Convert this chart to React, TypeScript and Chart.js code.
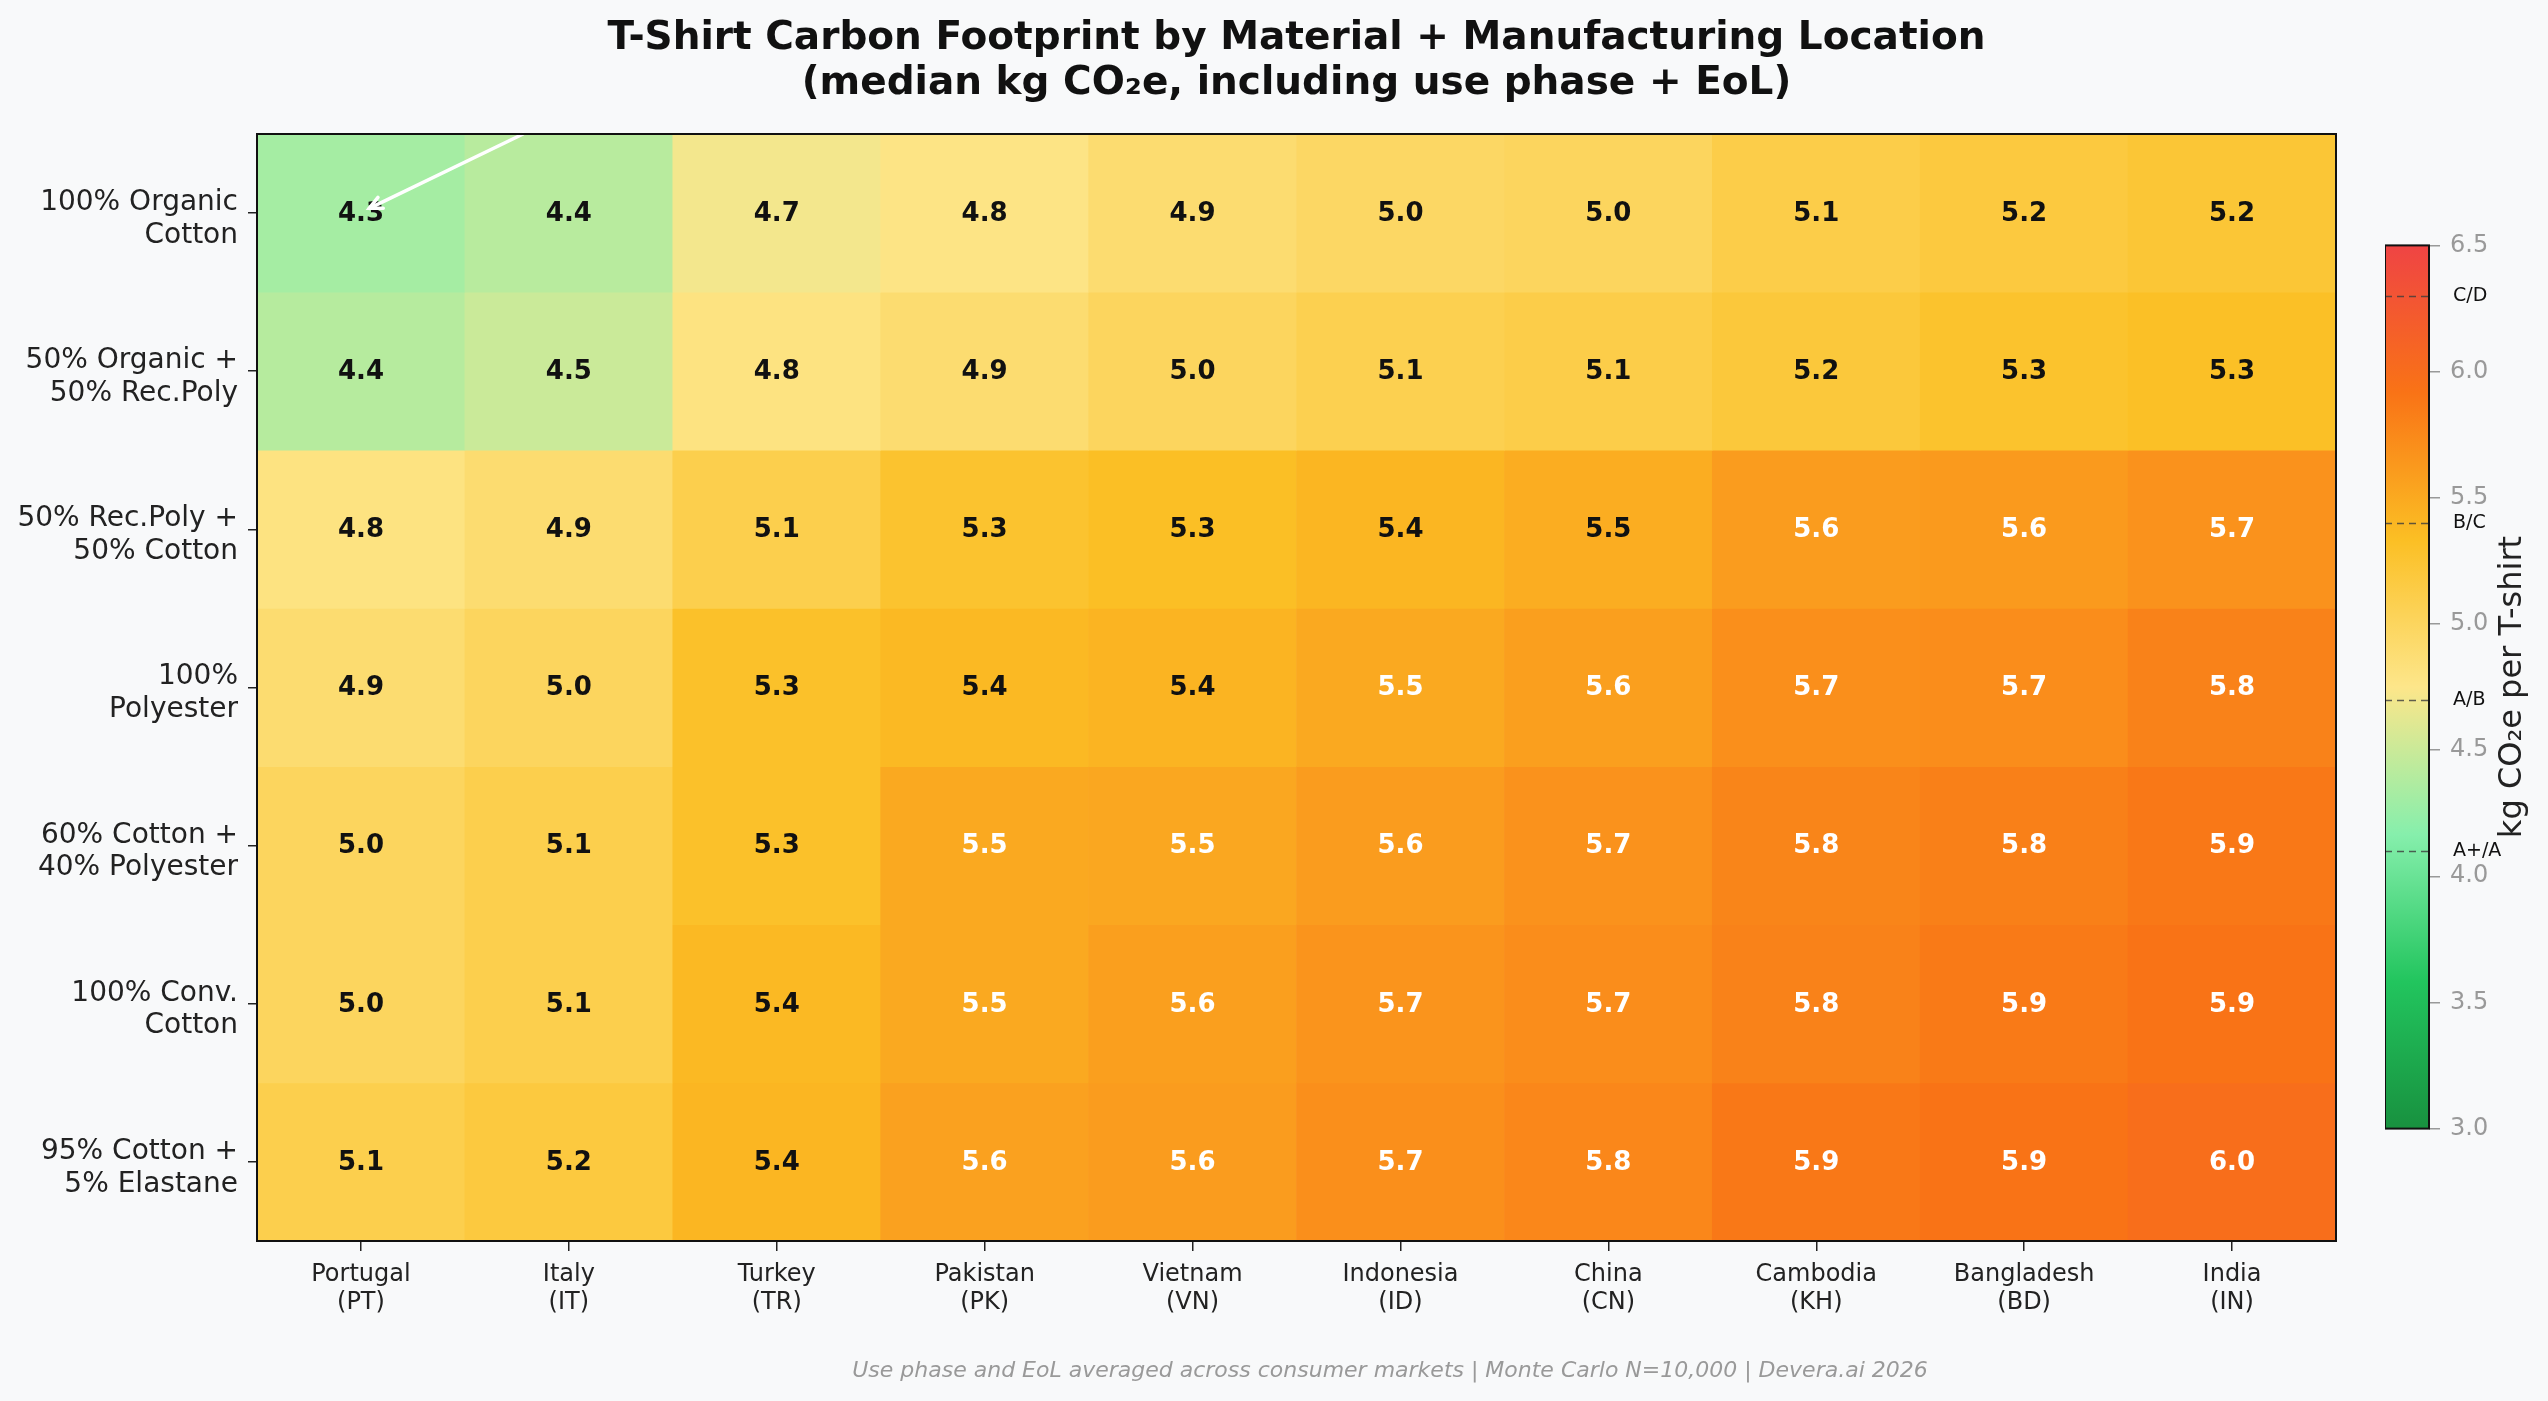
import React, { useEffect, useRef } from 'react';
import { Chart, registerables } from 'chart.js';

Chart.register(...registerables);

// ---------------- DATA ----------------
const MATERIALS: string[][] = [
  ['100% Organic', 'Cotton'],
  ['50% Organic +', '50% Rec.Poly'],
  ['50% Rec.Poly +', '50% Cotton'],
  ['100%', 'Polyester'],
  ['60% Cotton +', '40% Polyester'],
  ['100% Conv.', 'Cotton'],
  ['95% Cotton +', '5% Elastane'],
];

const COUNTRIES: string[][] = [
  ['Portugal', '(PT)'],
  ['Italy', '(IT)'],
  ['Turkey', '(TR)'],
  ['Pakistan', '(PK)'],
  ['Vietnam', '(VN)'],
  ['Indonesia', '(ID)'],
  ['China', '(CN)'],
  ['Cambodia', '(KH)'],
  ['Bangladesh', '(BD)'],
  ['India', '(IN)'],
];

// median kg CO2e per material (rows) x country (columns)
const ORGANIC_COTTON = [4.32, 4.41, 4.70, 4.78, 4.90, 4.97, 5.00, 5.12, 5.18, 5.23];
const ORGANIC_RECPOLY = [4.40, 4.50, 4.80, 4.90, 5.00, 5.08, 5.12, 5.20, 5.28, 5.32];
const RECPOLY_COTTON = [4.80, 4.90, 5.10, 5.27, 5.33, 5.40, 5.47, 5.60, 5.62, 5.68];
const POLYESTER = [4.90, 5.00, 5.30, 5.38, 5.42, 5.50, 5.58, 5.70, 5.72, 5.80];
const COTTON_POLY = [5.00, 5.10, 5.30, 5.50, 5.52, 5.60, 5.68, 5.78, 5.82, 5.88];
const CONV_COTTON = [5.00, 5.10, 5.38, 5.50, 5.58, 5.66, 5.72, 5.80, 5.86, 5.92];
const COTTON_ELASTANE = [5.10, 5.18, 5.40, 5.56, 5.60, 5.70, 5.76, 5.88, 5.92, 5.98];

const VALUES = [ORGANIC_COTTON, ORGANIC_RECPOLY, RECPOLY_COTTON, POLYESTER, COTTON_POLY, CONV_COTTON, COTTON_ELASTANE];

const CBAR_MIN = 3.0;
const CBAR_MAX = 6.5;
const GRADE_THRESHOLDS = [4.1, 4.7, 5.4, 6.3];
const GRADE_LABELS = ['A+/A', 'A/B', 'B/C', 'C/D'];

const TITLE_LINES = [
  'T-Shirt Carbon Footprint by Material + Manufacturing Location',
  '(median kg CO\u2082e, including use phase + EoL)',
];
const FOOTER = 'Use phase and EoL averaged across consumer markets | Monte Carlo N=10,000 | Devera.ai 2026';
const CBAR_TITLE = 'kg CO\u2082e per T-shirt';

// arrow annotation (data units: column index, row position)
const ARROW_FROM = [0.78, 0.0];
const ARROW_TO = [0.04, 0.47];

// ---------------- COLORMAP ----------------
const CMAP_STOPS: [number, string][] = [
  [3.0, '#18913f'],
  [3.5833, '#22c55e'],
  [4.1667, '#86efac'],
  [4.75, '#fde68a'],
  [5.3333, '#fbbf24'],
  [5.9167, '#f97316'],
  [6.5, '#ef4444'],
];

function hexToRgb(h: string) {
  const n = parseInt(h.slice(1), 16);
  return [(n >> 16) & 255, (n >> 8) & 255, n & 255];
}

function cmap(v: number): string {
  const s = CMAP_STOPS;
  if (v <= s[0][0]) return s[0][1];
  if (v >= s[s.length - 1][0]) return s[s.length - 1][1];
  for (let i = 0; i < s.length - 1; i++) {
    const [a, ca] = s[i];
    const [b, cb] = s[i + 1];
    if (v >= a && v <= b) {
      const t = (v - a) / (b - a);
      const A = hexToRgb(ca);
      const B = hexToRgb(cb);
      const c = A.map((x, k) => Math.round(x + (B[k] - x) * t));
      return `rgb(${c[0]},${c[1]},${c[2]})`;
    }
  }
  return s[0][1];
}

const BG = '#f8f9fa';
const FONT = '"DejaVu Sans", "Liberation Sans", sans-serif';

const W = 2548;
const H = 1401;

// ---------------- COMPONENT ----------------
export default function App() {
  const mainRef = useRef<HTMLCanvasElement | null>(null);
  const cbarRef = useRef<HTMLCanvasElement | null>(null);

  useEffect(() => {
    const mainCanvas = mainRef.current!;
    const cbarCanvas = cbarRef.current!;

    const decor = {
      id: 'heatDecor',
      beforeDraw(chart: any) {
        const ctx = chart.ctx;
        ctx.save();
        ctx.fillStyle = BG;
        ctx.fillRect(0, 0, chart.width, chart.height);
        ctx.restore();
      },
      afterDatasetsDraw(chart: any) {
        const ctx = chart.ctx;
        const area = chart.chartArea;
        const xs = chart.scales.x;
        const ys = chart.scales.y;
        ctx.save();
        // values
        ctx.font = `bold 26px ${FONT}`;
        ctx.textAlign = 'center';
        ctx.textBaseline = 'middle';
        VALUES.forEach((row, r) => {
          const meta = chart.getDatasetMeta(r);
          meta.data.forEach((el: any, c: number) => {
            const p = el.getProps(['x', 'y', 'base'], true);
            const v = row[c];
            ctx.fillStyle = v >= 5.48 ? '#ffffff' : '#111111';
            ctx.fillText(v.toFixed(1), p.x, (p.y + p.base) / 2 + 1);
          });
        });
        // arrow annotation
        const x1 = xs.getPixelForValue(ARROW_FROM[0]);
        const y1 = ys.getPixelForValue(ARROW_FROM[1]);
        const x2 = xs.getPixelForValue(ARROW_TO[0]);
        const y2 = ys.getPixelForValue(ARROW_TO[1]);
        ctx.strokeStyle = '#ffffff';
        ctx.lineWidth = 3.5;
        ctx.lineCap = 'round';
        ctx.beginPath();
        ctx.moveTo(x1, y1);
        ctx.lineTo(x2, y2);
        ctx.stroke();
        const ang = Math.atan2(y2 - y1, x2 - x1);
        const hl = 14;
        ctx.beginPath();
        ctx.moveTo(x2 - hl * Math.cos(ang - 0.45), y2 - hl * Math.sin(ang - 0.45));
        ctx.lineTo(x2, y2);
        ctx.lineTo(x2 - hl * Math.cos(ang + 0.45), y2 - hl * Math.sin(ang + 0.45));
        ctx.stroke();
        // border
        ctx.strokeStyle = '#111111';
        ctx.lineWidth = 2;
        ctx.strokeRect(area.left, area.top, area.right - area.left, area.bottom - area.top);
        ctx.restore();
      },
      afterDraw(chart: any) {
        const ctx = chart.ctx;
        const area = chart.chartArea;
        const cx = (area.left + area.right) / 2;
        ctx.save();
        ctx.fillStyle = '#111111';
        ctx.textAlign = 'center';
        ctx.textBaseline = 'alphabetic';
        ctx.font = `bold 39px ${FONT}`;
        ctx.fillText(TITLE_LINES[0], cx, 49);
        ctx.fillText(TITLE_LINES[1], cx, 94);
        ctx.font = `italic 22px ${FONT}`;
        ctx.fillStyle = '#999999';
        ctx.fillText(FOOTER, 1390, 1377);
        ctx.restore();
      },
    };

    const mainChart = new Chart(mainCanvas, {
      type: 'bar',
      data: {
        labels: COUNTRIES as any,
        datasets: MATERIALS.map((m, r) => ({
          label: m.join(' '),
          data: VALUES[r].map(() => [r, r + 1]) as any,
          backgroundColor: VALUES[r].map((v) => cmap(v)),
          borderWidth: 0,
          barPercentage: 1,
          categoryPercentage: 1,
          grouped: false,
        })) as any,
      },
      options: {
        animation: false,
        responsive: false,
        devicePixelRatio: 1,
        layout: { padding: { top: 134, right: 212, left: 0, bottom: 60 } },
        plugins: {
          legend: { display: false },
          tooltip: { enabled: false },
          title: { display: false },
        },
        scales: {
          x: {
            type: 'category',
            offset: true,
            grid: { display: true, drawOnChartArea: false, offset: false, tickLength: 10, color: '#222222', lineWidth: 1.5 },
            border: { display: false },
            ticks: {
              color: '#222222',
              font: { family: FONT, size: 24, lineHeight: 1.17 },
              padding: 10,
              maxRotation: 0,
              autoSkip: false,
            },
            afterFit: (s: any) => { s.height = 100; },
          },
          y: {
            type: 'linear',
            min: 0,
            max: 7,
            reverse: true,
            afterBuildTicks: (s: any) => {
              s.ticks = MATERIALS.map((_, i) => ({ value: i + 0.5 }));
            },
            grid: { display: true, drawOnChartArea: false, tickLength: 9, color: '#222222', lineWidth: 1.5 },
            border: { display: false },
            ticks: {
              autoSkip: false,
              color: '#222222',
              font: { family: FONT, size: 28, lineHeight: 1.17 },
              padding: 10,
              labelOffset: 6,
              callback: (v: any) => MATERIALS[Math.floor(Number(v))],
            },
            afterFit: (s: any) => { s.width = 257; },
          },
        },
      } as any,
      plugins: [decor],
    });

    const cbarDecor = {
      id: 'cbarDecor',
      beforeDraw(chart: any) {
        const ctx = chart.ctx;
        ctx.save();
        ctx.fillStyle = BG;
        ctx.fillRect(0, 0, chart.width, chart.height);
        ctx.restore();
      },
      afterDatasetsDraw(chart: any) {
        const ctx = chart.ctx;
        const a = chart.chartArea;
        const ys = chart.scales.y;
        ctx.save();
        ctx.setLineDash([7, 5]);
        ctx.strokeStyle = 'rgba(60,60,60,0.8)';
        ctx.lineWidth = 1.5;
        ctx.font = `19px ${FONT}`;
        ctx.fillStyle = '#111111';
        ctx.textAlign = 'left';
        ctx.textBaseline = 'middle';
        GRADE_THRESHOLDS.forEach((t, i) => {
          const y = Math.round(ys.getPixelForValue(t)) + 0.5;
          ctx.beginPath();
          ctx.moveTo(a.left, y);
          ctx.lineTo(a.right, y);
          ctx.stroke();
          ctx.fillText(GRADE_LABELS[i], a.right + 24, y);
        });
        ctx.setLineDash([]);
        ctx.strokeStyle = '#111111';
        ctx.lineWidth = 2;
        ctx.strokeRect(a.left, a.top, a.right - a.left, a.bottom - a.top);
        // title
        ctx.translate(a.right + 84, (a.top + a.bottom) / 2);
        ctx.rotate(-Math.PI / 2);
        ctx.textAlign = 'center';
        ctx.textBaseline = 'middle';
        ctx.font = `32px ${FONT}`;
        ctx.fillStyle = '#222222';
        ctx.fillText(CBAR_TITLE, 0, 0);
        ctx.restore();
      },
    };

    const cbarChart = new Chart(cbarCanvas, {
      type: 'bar',
      data: {
        labels: ['scale'],
        datasets: [
          {
            data: [[CBAR_MIN, CBAR_MAX]] as any,
            barPercentage: 1,
            categoryPercentage: 1,
            borderWidth: 0,
            backgroundColor: (c: any) => {
              const ch = c.chart;
              if (!ch.chartArea) return '#fbbf24';
              const ys = ch.scales.y;
              const y0 = ys.getPixelForValue(CBAR_MIN);
              const y1 = ys.getPixelForValue(CBAR_MAX);
              const g = ch.ctx.createLinearGradient(0, y0, 0, y1);
              CMAP_STOPS.forEach(([v, col]) => {
                g.addColorStop((v - CBAR_MIN) / (CBAR_MAX - CBAR_MIN), col);
              });
              return g;
            },
          },
        ],
      },
      options: {
        animation: false,
        responsive: false,
        devicePixelRatio: 1,
        layout: { padding: { top: 0, bottom: 0, left: 0, right: 0 } },
        plugins: { legend: { display: false }, tooltip: { enabled: false } },
        scales: {
          x: { display: false, offset: true },
          y: {
            position: 'right',
            min: CBAR_MIN,
            max: CBAR_MAX,
            grid: { display: true, drawOnChartArea: false, tickLength: 11, color: '#999999', lineWidth: 1.5 },
            border: { display: false },
            ticks: {
              stepSize: 0.5,
              color: '#999999',
              font: { family: FONT, size: 24 },
              padding: 10,
              callback: (v: any) => Number(v).toFixed(1),
            },
            afterFit: (s: any) => { s.width = 119; },
          },
        },
      } as any,
      plugins: [cbarDecor],
    });

    return () => {
      mainChart.destroy();
      cbarChart.destroy();
    };
  }, []);

  return (
    <div style={{ position: 'fixed', left: 0, top: 0, width: W, height: H, background: BG }}>
      <canvas
        ref={mainRef}
        width={W}
        height={H}
        style={{ position: 'absolute', left: 0, top: 0, width: W, height: H }}
      />
      <canvas
        ref={cbarRef}
        width={163}
        height={932}
        style={{ position: 'absolute', left: 2385, top: 221, width: 163, height: 932 }}
      />
    </div>
  );
}
